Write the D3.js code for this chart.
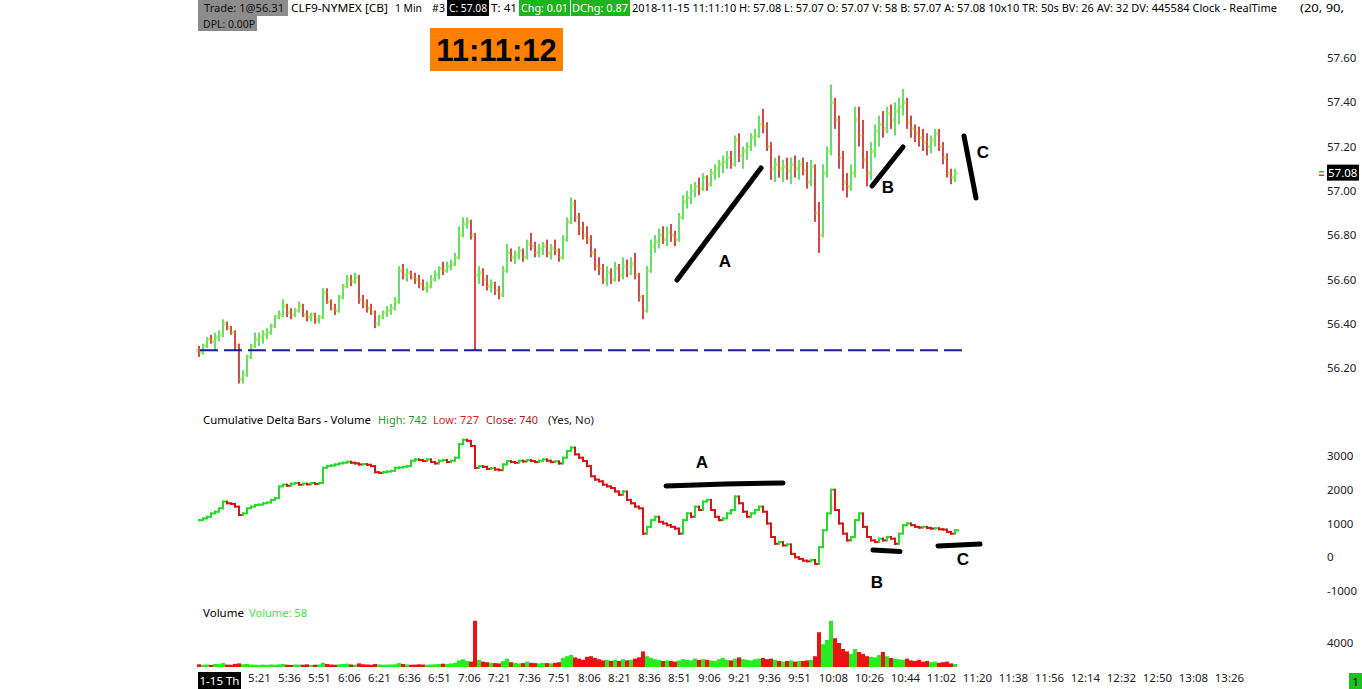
<!DOCTYPE html>
<html><head><meta charset="utf-8">
<script src="https://cdn.jsdelivr.net/npm/d3@7"></script>
<style>
body{margin:0;background:#fff;}
svg{display:block;}
text{font-family:"Noto Sans","Open Sans",sans-serif;font-size:11.5px;}
</style>
</head><body>
<svg id="c" width="1362" height="689"></svg>
<script>
// ---- DATA (2-minute bars from 04:51) ----
const barStartTime = "04:51";
const barStepMinutes = 2;
const priceOpen = [
56.28,56.27,56.30,56.33,56.32,56.34,56.35,56.40,56.38,56.36,
56.30,56.15,56.17,56.25,56.30,56.33,56.34,56.35,56.36,56.39,
56.43,56.44,56.48,56.45,56.44,56.46,56.48,56.44,56.43,56.44,
56.42,56.43,56.54,56.50,56.47,56.46,56.52,56.57,56.60,56.59,
56.61,56.51,56.49,56.47,56.45,56.40,56.43,56.45,56.46,56.47,
56.50,56.64,56.62,56.63,56.61,56.60,56.58,56.56,56.57,56.60,
56.62,56.65,56.64,56.66,56.67,56.70,56.80,56.85,56.86,56.80,
56.62,56.63,56.60,56.57,56.58,56.55,56.53,56.64,56.72,56.70,
56.71,56.73,56.70,56.76,56.75,56.72,56.74,56.75,56.72,56.74,
56.73,56.70,56.78,56.86,56.94,56.88,56.83,56.80,56.78,56.72,
56.66,56.65,56.60,56.63,56.60,56.65,56.62,56.66,56.63,56.67,
56.62,56.52,56.46,56.64,56.75,56.77,56.80,56.78,56.81,56.80,
56.78,56.88,56.95,56.97,57.00,57.02,57.01,57.06,57.03,57.08,
57.10,57.12,57.13,57.15,57.12,57.23,57.16,57.18,57.20,57.24,
57.25,57.30,57.29,57.20,57.10,57.12,57.10,57.11,57.09,57.12,
57.10,57.12,57.09,57.04,57.11,56.90,56.80,57.08,57.18,57.40,
57.32,57.15,57.04,57.02,57.08,57.32,57.25,57.14,57.08,57.18,
57.27,57.30,57.28,57.35,57.32,57.36,57.38,57.40,57.31,57.28,
57.26,57.24,57.22,57.20,57.23,57.26,57.20,57.15,57.08,57.06];
const priceHigh = [
56.30,56.31,56.34,56.35,56.36,56.37,56.42,56.41,56.39,56.37,
56.31,56.19,56.26,56.31,56.36,56.36,56.37,56.38,56.40,56.44,
56.46,56.51,56.49,56.47,56.47,56.50,56.49,56.46,56.45,56.45,
56.44,56.56,56.56,56.51,56.49,56.53,56.58,56.62,56.62,56.63,
56.62,56.53,56.51,56.49,56.46,56.44,56.46,56.48,56.49,56.52,
56.66,56.67,56.65,56.64,56.63,56.62,56.60,56.59,56.62,56.64,
56.66,56.68,56.68,56.69,56.72,56.84,56.88,56.88,56.87,56.81,
56.66,56.65,56.62,56.60,56.59,56.57,56.66,56.76,56.74,56.73,
56.75,56.74,56.78,56.81,56.77,56.76,56.77,56.78,56.76,56.78,
56.74,56.80,56.88,56.97,56.96,56.90,56.86,56.84,56.80,56.74,
56.70,56.67,56.66,56.65,56.68,56.67,56.70,56.69,56.70,56.72,
56.63,56.53,56.66,56.78,56.80,56.83,56.84,56.84,56.85,56.82,
56.90,56.98,57.00,57.03,57.04,57.06,57.08,57.07,57.10,57.12,
57.14,57.16,57.18,57.18,57.25,57.26,57.20,57.22,57.26,57.28,
57.34,57.37,57.31,57.22,57.15,57.16,57.14,57.15,57.15,57.16,
57.14,57.15,57.13,57.14,57.12,56.95,57.12,57.20,57.48,57.42,
57.34,57.18,57.08,57.12,57.38,57.38,57.32,57.18,57.22,57.30,
57.34,57.36,57.38,57.39,57.40,57.42,57.46,57.42,57.34,57.30,
57.29,57.28,57.26,57.25,57.28,57.28,57.22,57.17,57.10,57.10];
const priceLow = [
56.25,56.26,56.29,56.31,56.28,56.32,56.34,56.37,56.35,56.28,
56.13,56.13,56.16,56.24,56.29,56.30,56.31,56.33,56.35,56.38,
56.42,56.43,56.43,56.42,56.43,56.45,56.43,56.41,56.41,56.40,
56.40,56.42,56.49,56.46,56.44,56.45,56.51,56.56,56.57,56.58,
56.49,56.47,56.45,56.44,56.38,56.39,56.42,56.43,56.44,56.46,
56.49,56.60,56.59,56.60,56.58,56.56,56.55,56.54,56.56,56.59,
56.60,56.62,56.63,56.64,56.66,56.69,56.79,56.83,56.78,56.28,
56.58,56.57,56.55,56.54,56.53,56.51,56.52,56.63,56.68,56.67,
56.69,56.68,56.69,56.73,56.70,56.70,56.71,56.70,56.69,56.71,
56.68,56.69,56.77,56.85,56.86,56.80,56.78,56.76,56.70,56.64,
56.62,56.58,56.57,56.58,56.59,56.59,56.60,56.61,56.62,56.60,
56.50,56.42,56.45,56.63,56.72,56.74,56.76,56.75,56.77,56.75,
56.77,56.87,56.92,56.94,56.97,56.98,57.00,57.00,57.02,57.05,
57.06,57.08,57.10,57.10,57.11,57.13,57.10,57.14,57.18,57.20,
57.24,57.26,57.18,57.05,57.04,57.06,57.04,57.05,57.03,57.06,
57.05,57.07,57.01,57.02,56.86,56.72,56.79,57.06,57.16,57.28,
57.10,57.00,56.97,57.00,57.06,57.20,57.10,57.02,57.05,57.15,
57.20,57.24,57.26,57.28,57.25,57.30,57.34,57.28,57.24,57.22,
57.20,57.18,57.16,57.17,57.20,57.18,57.12,57.06,57.03,57.04];
const priceClose = [
56.27,56.30,56.33,56.32,56.34,56.35,56.40,56.38,56.36,56.30,
56.15,56.17,56.25,56.30,56.33,56.34,56.35,56.36,56.39,56.43,
56.44,56.48,56.45,56.44,56.46,56.48,56.44,56.43,56.44,56.42,
56.43,56.54,56.50,56.47,56.46,56.52,56.57,56.60,56.59,56.61,
56.51,56.49,56.47,56.45,56.40,56.43,56.45,56.46,56.47,56.50,
56.64,56.62,56.63,56.61,56.60,56.58,56.56,56.57,56.60,56.62,
56.65,56.64,56.66,56.67,56.70,56.80,56.85,56.86,56.80,56.62,
56.63,56.60,56.57,56.58,56.55,56.53,56.64,56.72,56.70,56.71,
56.73,56.70,56.76,56.75,56.72,56.74,56.75,56.72,56.74,56.73,
56.70,56.78,56.86,56.94,56.88,56.83,56.80,56.78,56.72,56.66,
56.65,56.60,56.63,56.60,56.65,56.62,56.66,56.63,56.67,56.62,
56.52,56.46,56.64,56.75,56.77,56.80,56.78,56.81,56.80,56.78,
56.88,56.95,56.97,57.00,57.02,57.01,57.06,57.03,57.08,57.10,
57.12,57.13,57.15,57.12,57.23,57.16,57.18,57.20,57.24,57.25,
57.30,57.29,57.20,57.10,57.12,57.10,57.11,57.09,57.12,57.10,
57.12,57.09,57.04,57.11,56.90,56.80,57.08,57.18,57.40,57.32,
57.15,57.04,57.02,57.08,57.32,57.25,57.14,57.08,57.18,57.27,
57.30,57.28,57.35,57.32,57.36,57.38,57.40,57.31,57.28,57.26,
57.24,57.22,57.20,57.23,57.26,57.20,57.15,57.08,57.06,57.08];
const cumDelta = [
1100,1150,1200,1300,1350,1450,1650,1600,1580,1500,
1250,1300,1450,1500,1550,1560,1600,1620,1700,1750,
2100,2150,2120,2180,2200,2150,2180,2160,2200,2170,
2200,2650,2700,2720,2750,2780,2800,2830,2800,2780,
2750,2760,2740,2700,2520,2500,2520,2540,2560,2650,
2660,2680,2700,2860,2900,2880,2850,2900,2820,2780,
2860,2880,2820,2860,2950,3350,3480,3450,3300,2650,
2700,2680,2620,2640,2600,2580,2750,2850,2820,2800,
2860,2840,2880,2850,2820,2860,2900,2860,2820,2840,
2780,2950,3150,3250,3050,2950,2850,2700,2400,2300,
2250,2150,2100,2050,1950,1850,1950,1700,1600,1500,
1450,700,900,1100,1200,1050,1000,950,900,850,
700,1100,1300,1200,1500,1400,1650,1700,1400,1200,
1100,1150,1300,1400,1800,1600,1350,1200,1300,1400,
1500,1350,1000,600,400,450,350,380,100,0,
-50,-100,-120,-80,-200,300,800,1300,2000,1400,
1000,700,500,600,1100,1300,900,600,500,450,
550,500,600,550,400,700,950,1000,950,900,
880,900,870,850,860,830,820,750,700,800];
const volume = [
450,380,420,350,500,480,650,400,380,520,600,450,500,420,380,350,400,360,420,380,
450,500,380,350,420,400,380,450,350,380,420,700,500,420,380,450,500,550,420,380,
600,450,420,380,500,420,380,400,420,450,650,500,420,380,400,450,420,380,420,450,
500,550,480,600,700,1100,1300,1000,900,7700,
1200,900,800,700,650,600,1000,1400,800,700,600,650,900,700,650,600,700,650,600,700,
800,1500,1800,2000,1600,1400,1200,1700,1800,1500,1300,1100,1200,1000,1200,1000,1300,1100,1200,1400,1600,
2600,1800,1500,1300,1200,1000,1100,1000,900,1100,1300,1200,1100,1400,1200,
1300,1200,1100,1000,1300,1500,1200,1100,1400,1600,1300,1200,1100,1300,1400,1500,1300,1400,1200,1000,900,1000,1100,900,1000,
1000,1100,1200,1800,5800,3800,4500,7700,4800,4000,
3000,2600,2200,3000,2500,2200,1800,1700,1600,2000,2500,1800,1500,1400,1300,
1200,1400,1100,1000,1200,900,1000,800,900,700,800,900,600,500];
const priceTicks = [56.20,56.40,56.60,56.80,57.00,57.20,57.40,57.60];
const deltaTicks = [3000,2000,1000,0,-1000];
const volumeTicks = [4000];
const timeTickLabels = ["5:21","5:36","5:51","6:06","6:21","6:36","6:51","7:06","7:21","7:36","7:51","8:06","8:21","8:36","8:51","9:06","9:21","9:36","9:51","10:08","10:26","10:44","11:02","11:20","11:38","11:56","12:14","12:32","12:50","13:08","13:26"];
const referenceLine = 56.28;
const lastPrice = 57.08;

// ---- SETUP ----
const svg = d3.select("#c");
const day = (s)=>{const [h,m]=s.split(":").map(Number);return new Date(2018,10,15,h,m);};
const t0 = day(barStartTime);
const times = priceClose.map((_,i)=>d3.timeMinute.offset(t0, barStepMinutes*i));
const x = d3.scaleTime().domain([day("4:50"), day("13:50")]).range([197,1277]);
const yP = d3.scaleLinear().domain([56.2,57.6]).range([368,58]);
const yD = d3.scaleLinear().domain([-1000,3000]).range([591,456]);
const yV = d3.scaleLinear().domain([0,4000]).range([667,643]);
const GREEN="#3ade3a", RED="#d01a1a", TICK="#cdef80";

// ---- PRICE BARS ----
const gp = svg.append("g");
priceClose.forEach((c,i)=>{
  const cx = Math.round(x(times[i]));
  const o = priceOpen[i], up = c>=o;
  gp.append("rect").attr("x",cx-0.8).attr("width",1.6)
    .attr("y",yP(priceHigh[i])).attr("height",Math.max(2,yP(priceLow[i])-yP(priceHigh[i])))
    .attr("fill",up?GREEN:RED);
  gp.append("rect").attr("x",cx-3).attr("width",2.2).attr("y",yP(o)-1.5).attr("height",3).attr("fill",TICK);
  gp.append("rect").attr("x",cx+0.8).attr("width",2.2).attr("y",yP(c)-1.5).attr("height",3).attr("fill",TICK);
});
svg.append("line").attr("x1",200).attr("x2",962).attr("y1",yP(referenceLine)).attr("y2",yP(referenceLine))
  .attr("stroke","#1a1a9e").attr("stroke-width",2).attr("stroke-dasharray","18,6");

// ---- CUMULATIVE DELTA ----
const gd = svg.append("g");
cumDelta.forEach((d,i)=>{
  const cx = Math.round(x(times[i]));
  const prev = i>0?cumDelta[i-1]:d;
  const col = d>=prev?"#22dd22":"#dd1111";
  const a = yD(Math.max(d,prev)), b = yD(Math.min(d,prev));
  gd.append("rect").attr("x",cx-1).attr("width",2).attr("y",a-1).attr("height",Math.max(2,b-a+2)).attr("fill",col);
  gd.append("rect").attr("x",cx-1).attr("width",5).attr("y",yD(d)-1).attr("height",2).attr("fill",col);
});

// ---- VOLUME ----
const gv = svg.append("g");
volume.forEach((v,i)=>{
  const cx = Math.round(x(times[i]));
  const up = priceClose[i]>=priceOpen[i];
  gv.append("rect").attr("x",cx-2).attr("width",4).attr("y",yV(v)).attr("height",yV(0)-yV(v))
    .attr("fill",up?"#22ee22":"#ee1111");
});

// ---- AXES ----
function rightAxis(scale, vals, fmt){
  const g = svg.append("g").attr("transform","translate(1327,0)")
    .call(d3.axisRight(scale).tickValues(vals).tickSize(0).tickPadding(0).tickFormat(fmt));
  g.select(".domain").remove();
  g.selectAll("text").attr("fill","#222").style("font-size","11.5px").style("font-family","'Noto Sans',sans-serif");
}
rightAxis(yP, priceTicks, d=>d.toFixed(2));
rightAxis(yD, deltaTicks, d=>String(d));
rightAxis(yV, volumeTicks, d=>String(d));

const gx = svg.append("g").attr("transform","translate(0,671)")
  .call(d3.axisBottom(x).tickValues(timeTickLabels.map(day)).tickSize(0).tickPadding(3).tickFormat(d3.timeFormat("%-H:%M")));
gx.select(".domain").remove();
gx.selectAll("text").attr("fill","#222").style("font-size","11.5px").style("font-family","'Noto Sans',sans-serif");

// date box
svg.append("rect").attr("x",198).attr("y",672).attr("width",43).attr("height",17).attr("fill","#000");
svg.append("text").attr("x",219.5).attr("y",685).attr("text-anchor","middle").attr("fill","#fff").text("1-15 Th");
// bottom right box
svg.append("rect").attr("x",1349).attr("y",673).attr("width",13).attr("height",16).attr("fill","#1fbf1f");
svg.append("text").attr("x",1355.5).attr("y",686).attr("text-anchor","middle").attr("fill","#000").text("1");

// last price
svg.append("rect").attr("x",1319).attr("y",171).attr("width",5).attr("height",1.5).attr("fill","#2c2");
svg.append("rect").attr("x",1319).attr("y",174.5).attr("width",5).attr("height",1.5).attr("fill","#d33");
svg.append("rect").attr("x",1327).attr("y",yP(lastPrice)-8.5).attr("width",32).attr("height",16).attr("fill","#000");
svg.append("text").attr("x",1328).attr("y",yP(lastPrice)+4).attr("fill","#fff").text(lastPrice.toFixed(2));

// ---- HEADER ----
function box(x0,y0,w,h,c){svg.append("rect").attr("x",x0).attr("y",y0).attr("width",w).attr("height",h).attr("fill",c);}
function txt(x0,y0,s,c,len,fs){const t=svg.append("text").attr("x",x0).attr("y",y0).attr("fill",c||"#000").text(s);
  if(fs) t.style("font-size",fs+"px");
  if(len) t.attr("textLength",len).attr("lengthAdjust","spacingAndGlyphs"); return t;}
box(198,0,90,16,"#8c8c8c"); txt(204,12,"Trade: 1@56.31","#111",80);
txt(291,12,"CLF9-NYMEX [CB]","#000",97);
txt(395,12,"1 Min","#000",27);
txt(432,12,"#3","#000",13);
box(447,0,42,16,"#000"); txt(449,12,"C: 57.08","#fff",38);
txt(491,12,"T: 41","#000",26);
box(519,0,51,16,"#1eb41e"); txt(521,12,"Chg: 0.01","#fff",47);
box(571,0,59,16,"#1eb41e"); txt(572,12,"DChg: 0.87","#fff",56);
txt(632,12,"2018-11-15 11:11:10 H: 57.08 L: 57.07 O: 57.07 V: 58 B: 57.07 A: 57.08 10x10 TR: 50s BV: 26 AV: 32 DV: 445584 Clock - RealTime","#000",645,10.8);
txt(1300,12,"(20, 90,","#000",44);
box(198,16,59,15,"#8c8c8c"); txt(203,28,"DPL: 0.00P","#111",52);

// clock
box(430,28,133,43,"#ff8000");
svg.append("text").attr("x",496.5).attr("y",61).attr("text-anchor","middle")
  .style("font-family","'Liberation Sans',Arial,sans-serif").style("font-size","31px").style("font-weight","bold")
  .attr("fill","#000").text("11:11:12");

// panel titles
txt(203,424,"Cumulative Delta Bars - Volume","#000",168);
txt(378,424,"High: 742","#1e9a1e",49);
txt(433,424,"Low: 727","#e8201c",46);
txt(486,424,"Close: 740","#b0141a",52);
txt(548,424,"(Yes, No)","#222",46);
txt(203,617,"Volume","#000",41);
txt(249,617,"Volume: 58","#3ee83e",58);

// ---- ANNOTATIONS ----
const ann = svg.append("g").attr("stroke","#000").attr("stroke-width",5).attr("stroke-linecap","round").attr("fill","none");
ann.append("line").attr("x1",677).attr("y1",280).attr("x2",761).attr("y2",168);
ann.append("line").attr("x1",872).attr("y1",186).attr("x2",903).attr("y2",147);
ann.append("line").attr("x1",964).attr("y1",136).attr("x2",976).attr("y2",198);
ann.append("path").attr("d","M666,486 L725,484 L783,483");
ann.append("line").attr("x1",873).attr("y1",550).attr("x2",900).attr("y2",551.5);
ann.append("line").attr("x1",938).attr("y1",546).attr("x2",980).attr("y2",544);
function lab(x0,y0,s){svg.append("text").attr("x",x0).attr("y",y0).attr("text-anchor","middle")
  .style("font-family","'Liberation Sans',Arial,sans-serif").style("font-size","17px").style("font-weight","bold").attr("fill","#000").text(s);}
lab(725,267,"A"); lab(888,193,"B"); lab(983,158,"C");
lab(702,468,"A"); lab(877,588,"B"); lab(963,565,"C");
</script>
</body></html>
